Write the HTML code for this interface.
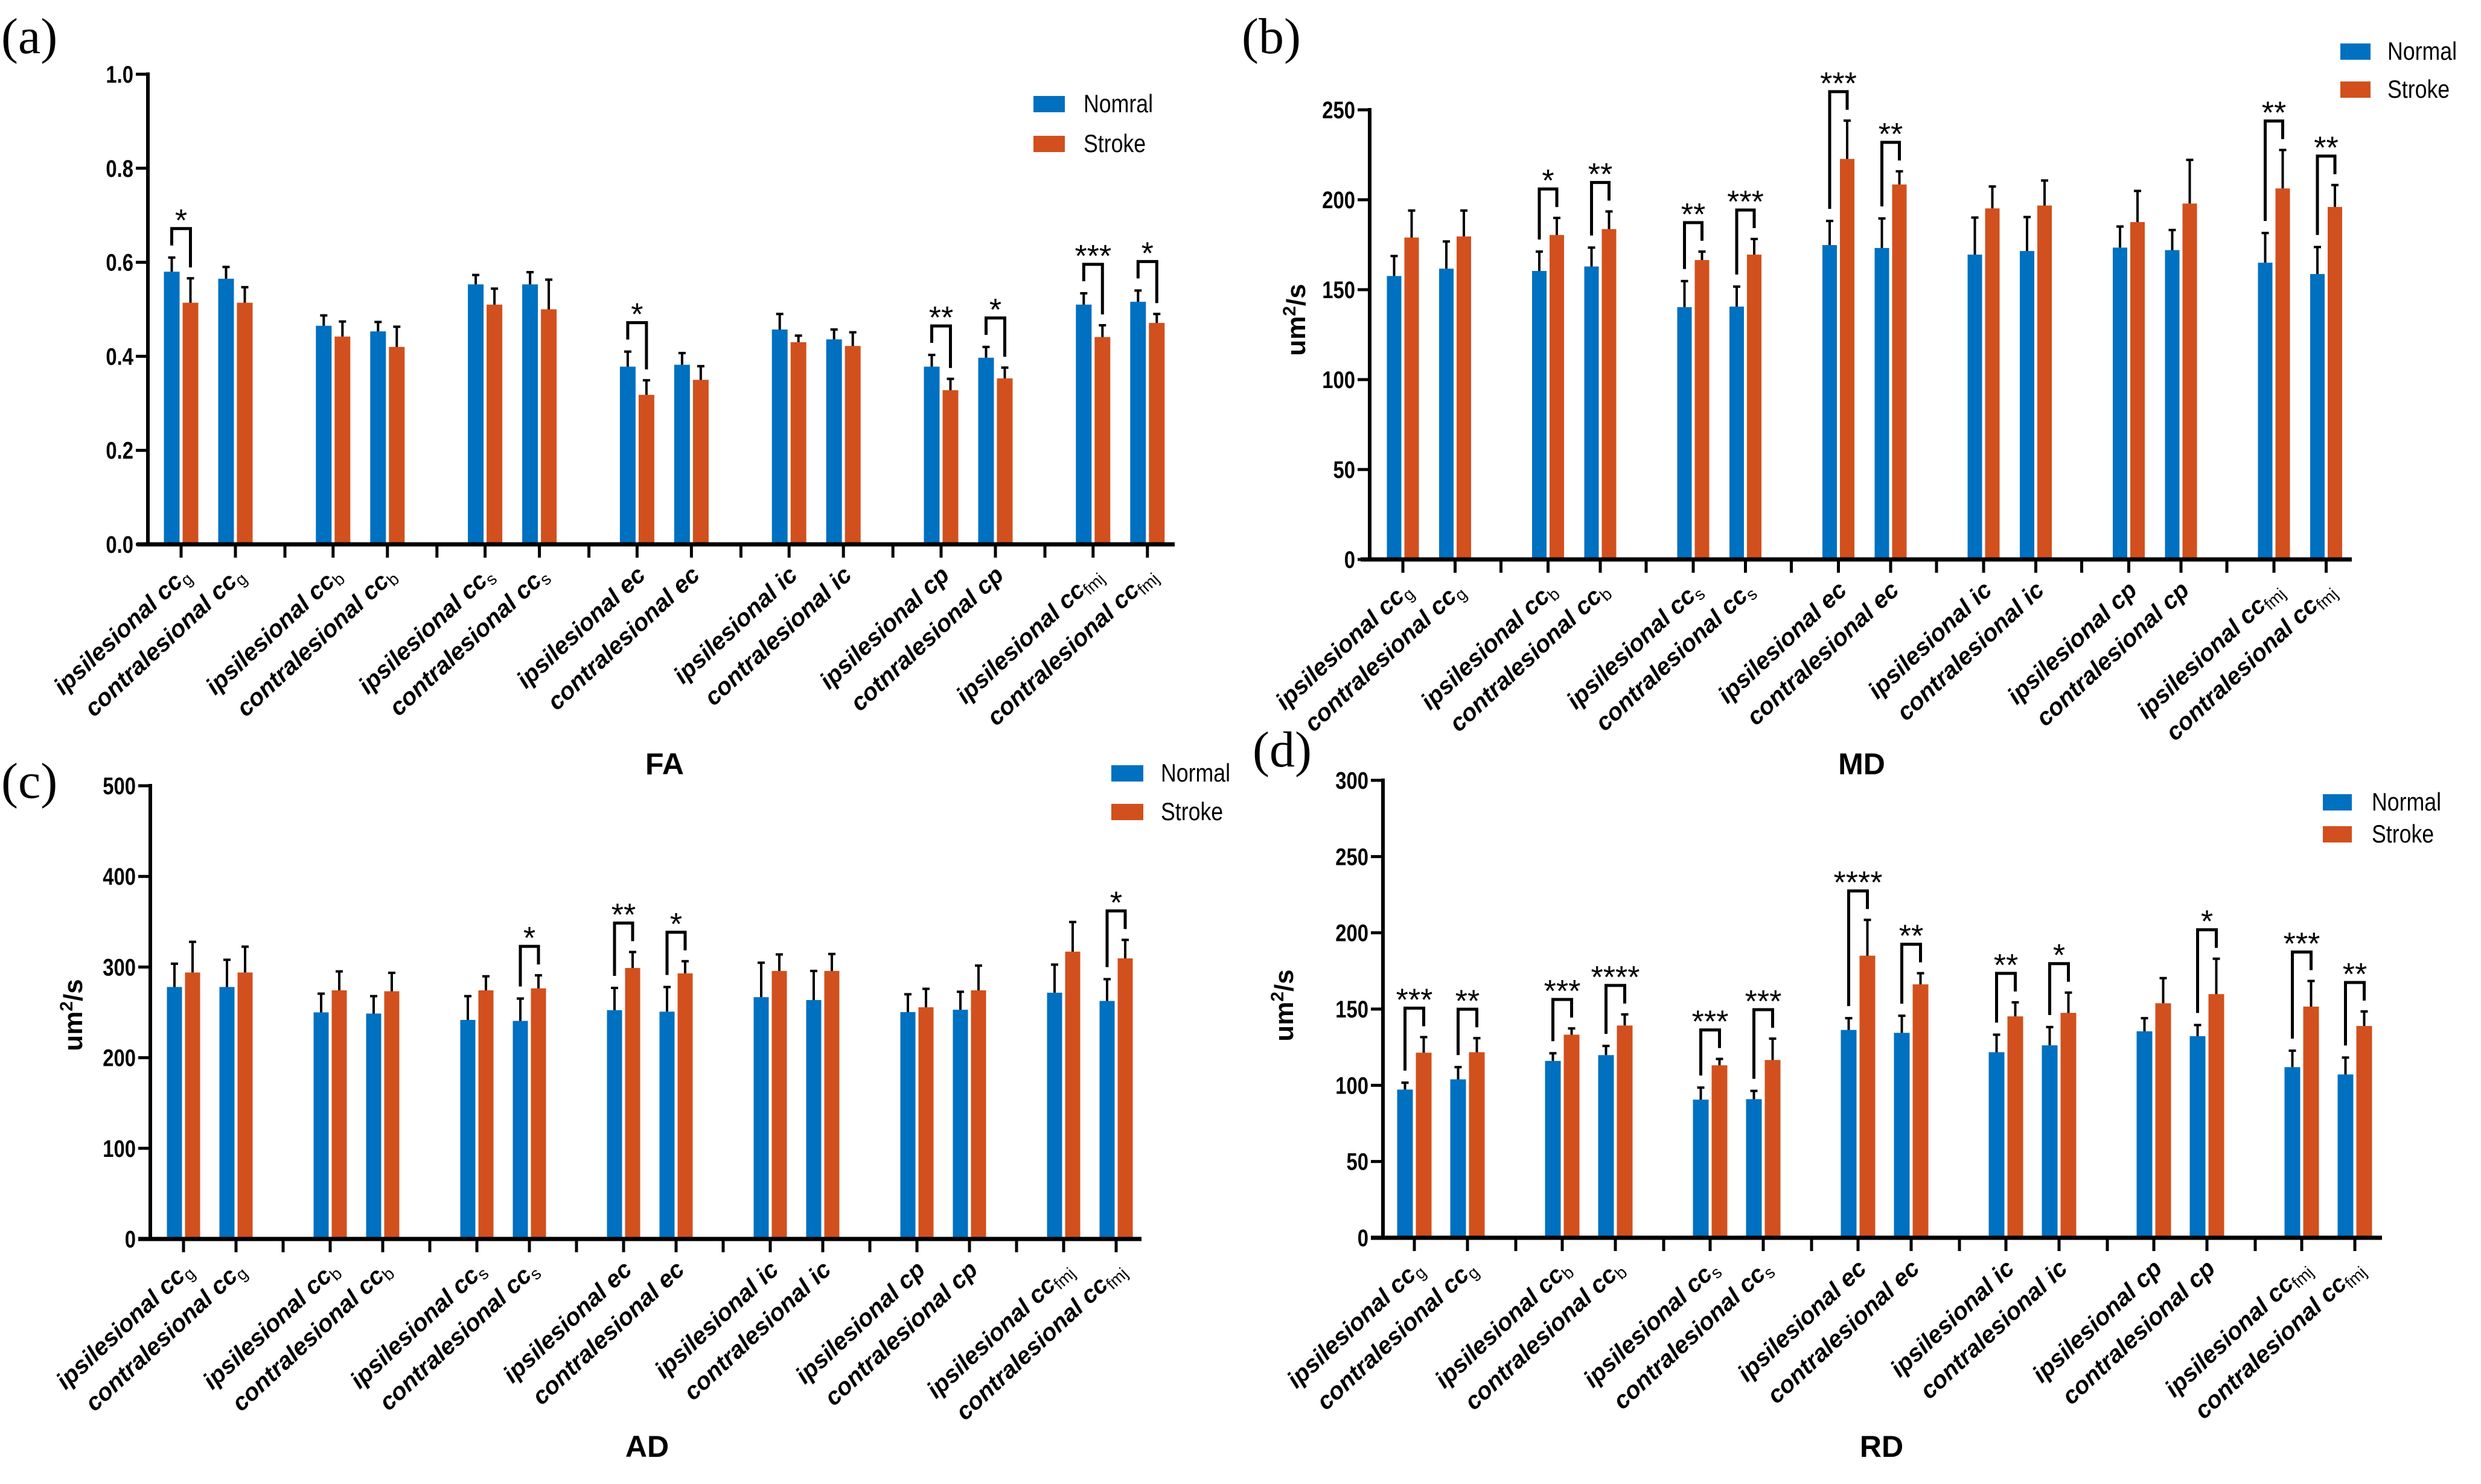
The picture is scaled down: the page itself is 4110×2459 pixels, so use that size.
<!DOCTYPE html>
<html><head><meta charset="utf-8"><style>
html,body{margin:0;padding:0;background:#fff;}
svg{display:block;}
.tk{font-family:"Liberation Sans",sans-serif;font-weight:bold;font-size:40px;fill:#000;}
.cat{font-family:"Liberation Sans",sans-serif;font-weight:bold;font-style:italic;font-size:40px;fill:#000;}
.leg{font-family:"Liberation Sans",sans-serif;font-size:42px;fill:#000;}
.ttl{font-family:"Liberation Sans",sans-serif;font-weight:bold;font-size:50px;fill:#000;}
.yt{font-family:"Liberation Sans",sans-serif;font-weight:bold;font-size:44px;fill:#000;}
.pl{font-family:"Liberation Serif",serif;font-size:84px;fill:#000;}
.st{font-family:"Liberation Sans",sans-serif;font-size:52px;fill:#000;}
</style></head><body>
<svg id="fig" width="4110" height="2459" viewBox="0 0 4110 2459" xmlns="http://www.w3.org/2000/svg">
<rect width="4110" height="2459" fill="#fff"/>
<text class="pl" x="2" y="88">(a)</text>
<text class="pl" x="2057" y="88">(b)</text>
<text class="pl" x="2" y="1322">(c)</text>
<text class="pl" x="2075" y="1270">(d)</text>
<text class="ttl" x="1101" y="1283" text-anchor="middle">FA</text>
<text class="ttl" x="3084" y="1283" text-anchor="middle">MD</text>
<text class="ttl" x="1072" y="2414" text-anchor="middle">AD</text>
<text class="ttl" x="3117" y="2414" text-anchor="middle">RD</text>
</svg>
<script>
// ---------- data ----------
const catBase = ["ipsilesional cc","contralesional cc","ipsilesional cc","contralesional cc","ipsilesional cc","contralesional cc","ipsilesional ec","contralesional ec","ipsilesional ic","contralesional ic","ipsilesional cp","contralesional cp","ipsilesional cc","contralesional cc"];
const catBaseA = ["ipsilesional cc","contralesional cc","ipsilesional cc","contralesional cc","ipsilesional cc","contralesional cc","ipsilesional ec","contralesional ec","ipsilesional ic","contralesional ic","ipsilesional cp","cotnralesional cp","ipsilesional cc","contralesional cc"];
const catSub = ["g","g","b","b","s","s","","","","","","","fmj","fmj"];

const faNormal = [0.58,0.565,0.465,0.453,0.553,0.553,0.378,0.382,0.457,0.436,0.378,0.397,0.51,0.516];
const faNormalErr = [0.03,0.025,0.022,0.02,0.02,0.026,0.032,0.025,0.033,0.021,0.025,0.023,0.024,0.024];
const faStroke = [0.514,0.514,0.442,0.42,0.51,0.5,0.318,0.35,0.43,0.422,0.328,0.353,0.441,0.471];
const faStrokeErr = [0.052,0.033,0.032,0.043,0.034,0.063,0.031,0.029,0.014,0.029,0.024,0.023,0.025,0.019];
const faSig = ["*","","","","","","*","","","","**","*","***","*"];

const mdNormal = [157.6,161.7,160.4,162.9,140.3,140.6,174.8,173.2,169.5,171.5,173.4,172,165,158.7];
const mdNormalErr = [11.1,15.1,10.8,10.5,14.5,11.1,13.4,16.4,20.6,18.9,11.7,11.2,16.5,15];
const mdStroke = [179,179.6,180.4,183.7,166.5,169.5,222.7,208.5,195.2,196.8,187.6,197.9,206.3,196];
const mdStrokeErr = [15,14.4,9.5,9.8,4.7,8.7,21.3,7.3,12.2,13.9,17.3,24.3,21.4,12.2];
const mdSig = ["","","*","**","**","***","***","**","","","","","**","**"];

const adNormal = [278,278,250,248.7,241.7,240.6,252.4,250.8,266.8,263.6,250.3,252.9,271.7,262.6];
const adNormalErr = [25.7,30,20.6,19.2,26.2,24.6,24.6,27.2,38,32.1,19.7,19.8,31,24];
const adStroke = [294,294,274.3,273.3,274.3,276.5,299,293,295.7,295.7,255.6,274.3,317,309.6];
const adStrokeErr = [33.8,28.5,20.9,20.3,15.5,14.4,17.6,13.4,18.2,18.7,20.4,27.3,32.7,20.4];
const adSig = ["","","","","","*","**","*","","","","","","*"];

const rdNormal = [97.2,103.9,116,119.8,90.6,90.9,136.3,134.4,121.7,126.2,135.4,132.2,111.9,107.1];
const rdNormalErr = [4.5,8,5,6,7.9,5.4,7.7,11.2,11.5,12,8.6,7.3,10.8,11.1];
const rdStroke = [121.4,121.7,133.2,139.2,113.1,116.6,185,166.2,145.2,147.5,153.8,159.8,151.6,138.9];
const rdStrokeErr = [10.2,9.2,4.1,7.3,4.2,14,23.5,7.3,9.2,13.3,16.5,23.2,16.8,9.5];
const rdSig = ["***","**","***","****","***","***","****","**","**","*","","*","***","**"];

const faTicks = ["0.0","0.2","0.4","0.6","0.8","1.0"];
const mdTicks = ["0","50","100","150","200","250"];
const adTicks = ["0","100","200","300","400","500"];
const rdTicks = ["0","50","100","150","200","250","300"];

const BLUE = "#0070C0", ORANGE = "#D1501E";
const NS = "http://www.w3.org/2000/svg";
const svg = document.getElementById("fig");

function mk(tag, attrs, parent){
  const e = document.createElementNS(NS, tag);
  for (const k in attrs) e.setAttribute(k, attrs[k]);
  (parent||svg).appendChild(e);
  return e;
}

function drawPanel(p){
  const g = mk("g", {});
  
  
  const yMax = parseFloat(p.ticks[p.ticks.length-1]);
  const yS = v => p.y0 - (v / yMax) * (p.y0 - p.yTop);
  const xC = i => p.x0 + Math.floor(i/2)*p.gs + (i%2)*p.s2;
  const ya = mk("line", {x1:p.ax, y1:p.yTop-3, x2:p.ax, y2:p.y0, stroke:"#000","stroke-width":6}, g);
  
  
  p.ticks.forEach(t => {
    const y = yS(parseFloat(t));
    mk("line", {x1:p.ax-20, y1:y, x2:p.ax, y2:y, stroke:"#000","stroke-width":5}, g);
    const tl = mk("text", {"text-anchor":"end", class:"tk", transform:`translate(${p.ax-24},${y+14}) scale(0.82,1)`}, g);
    tl.textContent = t;
    
    
  });
  const n = p.normal.length;
  for (let i=0;i<n;i++){
    const c = xC(i);
    const specs = [[p.normal[i], p.normalErr[i], c-2.5-p.bw, BLUE, 'bar-normal'],
                   [p.stroke[i], p.strokeErr[i], c+2.5, ORANGE, 'bar-stroke']];
    specs.forEach(s => {
      const [v, e, x, col, nm] = s;
      const r = mk("rect", {x:x, y:yS(v), width:p.bw, height:p.y0-yS(v), fill:col}, g);
      
      
      const bx = x + p.bw/2, ty = yS(v+e);
      const eb = mk("path", {d:`M${bx},${yS(v)}V${ty}M${bx-6},${ty}H${bx+6}`, stroke:"#000","stroke-width":4, fill:"none"}, g);
      
      
    });
    if (p.sig[i]){
      const yn = yS(p.normal[i]+p.normalErr[i]), ys = yS(p.stroke[i]+p.strokeErr[i]);
      const top = Math.min(yn, ys) - 48;
      const lx = c-2.5-p.bw/2, rx = c+2.5+p.bw/2;
      const br = mk("path", {d:`M${lx},${yn-20}V${top}H${rx}V${ys-18}`, stroke:"#000","stroke-width":5, fill:"none"}, g);
      
      
      const st = mk("text", {x:(lx+rx)/2, y:top+4, "text-anchor":"middle", class:"st"}, g);
      st.textContent = p.sig[i];
      
      
    }
  }
  const xa = mk("line", {x1:p.axStart, y1:p.y0, x2:p.axEnd, y2:p.y0, stroke:"#000","stroke-width":7}, g);
  
  
  for (let i=0;i<n;i++){
    const c = xC(i);
    mk("line", {x1:c, y1:p.y0, x2:c, y2:p.y0+22, stroke:"#000","stroke-width":5}, g);
    if (i%2===1 && i<n-1){
      const sx = p.x0 + Math.floor(i/2)*p.gs + p.sep;
      mk("line", {x1:sx, y1:p.y0, x2:sx, y2:p.y0+22, stroke:"#000","stroke-width":5}, g);
    }
    const t = mk("text", {class:"cat", "text-anchor":"end", transform:`translate(${c+16},${p.y0+54}) rotate(-43)`}, g);
    
    
    const t1 = mk("tspan", {}, t); t1.textContent = p.cats[i];
    if (catSub[i]){
      const t2 = mk("tspan", {"font-size":"28", dy:"8", "font-style":"normal", "font-weight":"normal"}, t);
      t2.textContent = catSub[i];
    }
  }
  const lg = mk("g", {}, g);
  
  
  [[BLUE, p.legN, p.ly1],[ORANGE, "Stroke", p.ly2]].forEach(L => {
    mk("rect", {x:p.lx, y:L[2], width:p.lw, height:27, fill:L[0]}, lg);
    const lt = mk("text", {class:"leg", transform:`translate(${p.tx},${L[2]+27}) scale(0.85,1)`}, lg);
    lt.textContent = L[1];
    
    
  });
  if (p.ytx){
    const yt = mk("text", {class:"yt", "text-anchor":"middle", transform:`translate(${p.ytx},${p.yty}) rotate(-90)`}, g);
    
    
    const a = mk("tspan", {}, yt); a.textContent = "um";
    const b = mk("tspan", {"font-size":"30", dy:"-16"}, yt); b.textContent = "2";
    const c2 = mk("tspan", {dy:"16"}, yt); c2.textContent = "/s";
  }
}

drawPanel({name:"chart-fa", cats:catBaseA, normal:faNormal, normalErr:faNormalErr, stroke:faStroke, strokeErr:faStrokeErr, sig:faSig, ticks:faTicks,
  ax:245, yTop:123, y0:902, axStart:227, axEnd:1946, x0:300, gs:251.8, s2:90, sep:172, bw:26,
  lx:1712, lw:52, ly1:159, ly2:225, tx:1795, legN:"Nomral"});
drawPanel({name:"chart-md", cats:catBase, normal:mdNormal, normalErr:mdNormalErr, stroke:mdStroke, strokeErr:mdStrokeErr, sig:mdSig, ticks:mdTicks,
  ax:2269, yTop:182, y0:927, axStart:2254, axEnd:3896, x0:2324, gs:240.5, s2:86.5, sep:162.5, bw:24,
  lx:3877, lw:50, ly1:72, ly2:135, tx:3955, legN:"Normal", ytx:2162, yty:530});
drawPanel({name:"chart-ad", cats:catBase, normal:adNormal, normalErr:adNormalErr, stroke:adStroke, strokeErr:adStrokeErr, sig:adSig, ticks:adTicks,
  ax:249, yTop:1302, y0:2053, axStart:229, axEnd:1891, x0:304, gs:243, s2:87, sep:165, bw:25,
  lx:1841, lw:53, ly1:1268, ly2:1332, tx:1923, legN:"Normal", ytx:136, yty:1682});
drawPanel({name:"chart-rd", cats:catBase, normal:rdNormal, normalErr:rdNormalErr, stroke:rdStroke, strokeErr:rdStrokeErr, sig:rdSig, ticks:rdTicks,
  ax:2291, yTop:1293, y0:2051, axStart:2271, axEnd:3946, x0:2343, gs:245, s2:88, sep:168, bw:26,
  lx:3848, lw:48, ly1:1316, ly2:1369, tx:3929, legN:"Normal", ytx:2142, yty:1666});
</script>
</body></html>
